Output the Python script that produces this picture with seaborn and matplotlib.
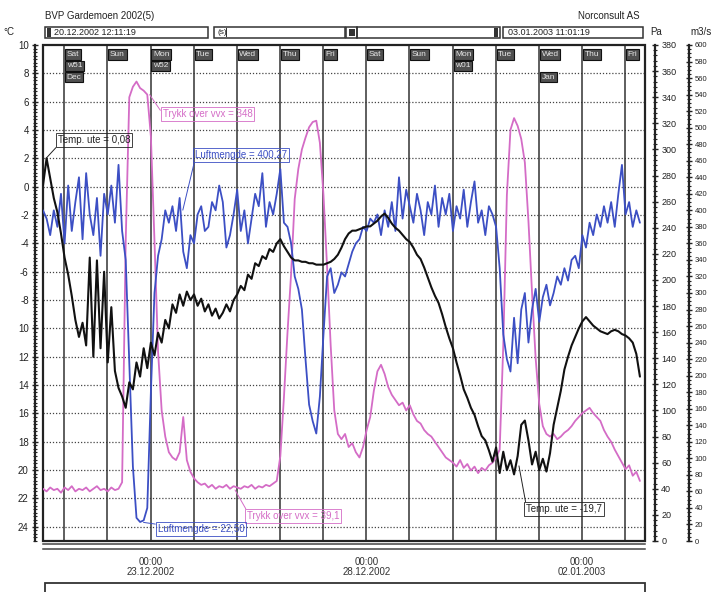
import numpy as np
import pandas as pd
import matplotlib
matplotlib.use('Agg')
import matplotlib.pyplot as plt
from matplotlib.patches import Rectangle
from matplotlib.ticker import MultipleLocator, FixedLocator
from matplotlib.transforms import blended_transform_factory
import seaborn as sns

# logger values, one reading every 2 hours from 20.12.2002 12:11
step_hours = 2
temp_ute = [
    0.1, 2.0, 0.6, -0.8, -1.8, -3.3, -5.0, -6.2, -7.7, -9.4, -10.6, -9.6,
    -11.2, -5.0, -12.0, -5.2, -11.4, -6.0, -12.4, -8.5, -13.0,
    -14.2, -14.8, -15.6, -13.8, -14.3, -12.4, -13.4, -11.4, -12.8, -11.0,
    -11.9, -10.3, -11.0, -9.4, -10.0, -8.3, -8.9, -7.6, -8.4, -7.4,
    -8.0, -7.6, -8.4, -7.9, -8.8, -8.3, -9.1, -8.6, -9.3, -8.9,
    -8.3, -8.8, -8.0, -7.6, -7.0, -7.3, -6.2, -6.5, -5.4, -5.6,
    -4.9, -5.1, -4.4, -4.6, -4.0, -3.7, -4.2, -4.6, -5.0, -5.2,
    -5.2, -5.3, -5.3, -5.4, -5.4, -5.5, -5.5, -5.5, -5.4, -5.3,
    -5.1, -4.8, -4.3, -3.7, -3.3, -3.1, -3.1, -3.0, -2.9, -2.8,
    -2.8, -2.6, -2.4, -2.1, -1.9, -2.2, -2.6, -2.9, -3.1, -3.4,
    -3.7, -3.9, -4.3, -4.8, -5.1, -5.7, -6.4, -7.1, -7.7, -8.2,
    -9.0, -9.9, -10.7, -11.4, -12.4, -13.3, -14.3, -14.9, -15.6, -16.1,
    -16.9, -17.6, -17.9, -18.6, -19.4, -18.4, -20.2, -18.7, -20.0, -19.3,
    -20.3, -19.0, -16.8, -16.5, -17.9, -19.6, -18.7, -20.0, -19.2, -20.1,
    -18.8, -16.8, -15.6, -14.4, -12.9, -12.0, -11.2, -10.6, -10.0, -9.5,
    -9.2, -9.5, -9.8, -10.0, -10.2, -10.3, -10.4, -10.2, -10.1, -10.2,
    -10.4, -10.5, -10.7, -11.0, -11.8, -13.4,
]
luftmengde = [
    400, 390, 370, 400, 380, 420, 360, 430, 375, 410,
    440, 365, 445, 395, 370, 415, 345, 420, 395, 430,
    385, 455, 375, 340, 215, 90, 28, 23, 25, 40,
    180, 300, 345, 365, 400, 385, 405, 375, 415, 350,
    330, 370, 360, 395, 405, 375, 380, 410, 400, 430,
    410, 355, 370, 395, 425, 375, 400, 360, 390, 420,
    405, 445, 380, 410, 395, 420, 450, 385, 380, 360,
    320, 305, 280, 220, 165, 145, 130, 175, 250, 320,
    330, 300, 310, 325, 320, 335, 350, 360, 365, 380,
    375, 390, 385, 395, 370, 400, 380, 410, 375, 440,
    390, 425, 405, 385, 420, 400, 370, 410, 395, 430,
    380, 415, 395, 420, 375, 405, 390, 425, 380, 410,
    435, 385, 400, 370, 405, 395, 380, 330, 250, 220,
    205, 270, 215, 280, 300, 240, 280, 305, 265, 295,
    310, 285, 300, 320, 310, 330, 315, 340, 345, 330,
    370, 355, 385, 370, 395, 380, 405, 385, 410, 380,
    420, 455, 395, 410, 380, 400, 385,
]
trykk_vvx = [
    40, 38, 41, 39, 40, 37, 41, 39, 42, 38,
    40, 39, 41, 38, 40, 42, 39, 40, 38, 41,
    39, 40, 45, 230, 340, 348, 352, 347, 345, 342,
    310, 230, 145, 100, 80, 68, 64, 62, 68, 95,
    62, 53, 48, 45, 43, 44, 41, 43, 40, 42,
    41, 43, 40, 42, 41, 40, 42, 41, 43, 40,
    42, 41, 43, 42, 44, 46, 65, 110, 160, 205,
    262, 285, 300, 309, 317, 321, 322, 305, 265, 210,
    150, 100, 82, 78, 82, 72, 75, 68, 64, 72,
    85, 95, 115, 130, 135, 128, 118, 112, 108, 104,
    106, 100, 104, 97, 92, 90, 85, 82, 80, 76,
    72, 68, 64, 62, 60, 57, 62, 56, 59, 54,
    57, 52, 56, 54, 58, 60, 64, 70, 150, 265,
    315, 324, 318, 308, 290, 245, 190, 140, 105, 88,
    82, 80, 82, 78, 80, 83, 85, 88, 92, 95,
    98, 100, 102, 98, 95, 92, 85, 80, 76, 70,
    65, 60, 55, 58, 50, 53, 46,
]

day_names = ['Sat', 'Sun', 'Mon', 'Tue', 'Wed', 'Thu', 'Fri',
             'Sat', 'Sun', 'Mon', 'Tue', 'Wed', 'Thu', 'Fri']
week_tags = {0: 'w51', 2: 'w52', 9: 'w01'}
month_tags = {0: 'Dec', 11: 'Jan'}
date_labels = {2: '00:00\n23.12.2002', 7: '00:00\n28.12.2002', 12: '00:00\n02.01.2003'}
first_midnight = 0.4921          # days from start to 21.12.2002 00:00
span_days = 13.951               # 20.12.2002 12:11 -> 03.01.2003 11:01

temp_ticks = list(range(10, -25, -2))
temp_ticklabels = ['10', '8', '6', '4', '2', '0', '-2', '-4', '-6', '-8',
                   '10', '12', '14', '16', '18', '20', '22', '24']

BLUE = '#3c4fc4'
MAG = '#d46cc6'
GRID = '#444444'

df = pd.DataFrame({
    'dag': np.arange(len(temp_ute)) * step_hours / 24,
    'temp': temp_ute,
    'luft': luftmengde,
    'trykk': trykk_vvx,
})

sns.set_style('white')
plt.rcParams['font.family'] = ['Liberation Sans', 'DejaVu Sans']

W, H = 713, 592
PT = 72 / 100   # points per pixel at dpi 100
fig = plt.figure(figsize=(W / 100, H / 100), dpi=100)


def box(x0, y0, x1, y1):
    return [x0 / W, 1 - y1 / H, (x1 - x0) / W, (y1 - y0) / H]


ax = fig.add_axes(box(43, 45, 645, 541))
ax.set_xlim(0, span_days)
ax.set_ylim(-25, 10)
for s in ['top', 'right', 'bottom']:
    ax.spines[s].set_visible(False)
ax.spines['left'].set_position(('outward', 8 * PT))
ax.spines['left'].set_linewidth(1.6)
ax.spines['left'].set_color('#222')
ax.set_yticks(temp_ticks)
ax.set_yticklabels(temp_ticklabels)
ax.yaxis.set_minor_locator(MultipleLocator(0.25))
ax.tick_params(axis='y', which='major', direction='inout', length=5, width=1,
               labelsize=7, pad=2, colors='#222')
ax.tick_params(axis='y', which='minor', direction='inout', length=2.5, width=0.8, colors='#222')
ax.tick_params(axis='x', bottom=False, labelbottom=False)
ax.add_patch(Rectangle((0, 0), 1, 1, transform=ax.transAxes, fill=False,
                       ec='#222', lw=1.6, clip_on=False, zorder=5))

# grid: dotted horizontals, solid day lines
for v in range(-24, 10, 2):
    ax.axhline(v, color=GRID, lw=0.9, ls=(0, (1, 1.5)), zorder=1)
for i in range(len(day_names)):
    ax.axvline(first_midnight + i, color='#333', lw=1.1, zorder=1)

# pressure axis (Pa)
ax_p = ax.twinx()
ax_p.set_ylim(0, 380)
for s in ['top', 'left', 'bottom']:
    ax_p.spines[s].set_visible(False)
ax_p.spines['right'].set_position(('outward', 10 * PT))
ax_p.spines['right'].set_linewidth(1.6)
ax_p.spines['right'].set_color('#222')
ax_p.yaxis.set_major_locator(FixedLocator(range(0, 381, 20)))
ax_p.yaxis.set_minor_locator(MultipleLocator(4))
ax_p.tick_params(axis='y', which='major', direction='inout', length=5, width=1,
                 labelsize=6.5, pad=2, colors='#222')
ax_p.tick_params(axis='y', which='minor', direction='inout', length=2.5, width=0.8, colors='#222')

# air flow axis (m3/s)
ax_q = ax.twinx()
ax_q.set_ylim(0, 600)
for s in ['top', 'left', 'bottom']:
    ax_q.spines[s].set_visible(False)
ax_q.spines['right'].set_position(('outward', 44 * PT))
ax_q.spines['right'].set_linewidth(1.6)
ax_q.spines['right'].set_color('#222')
ax_q.yaxis.set_major_locator(FixedLocator(range(0, 601, 20)))
ax_q.yaxis.set_minor_locator(MultipleLocator(5))
ax_q.tick_params(axis='y', which='major', direction='inout', length=5, width=1,
                 labelsize=5.5, pad=1.5, colors='#222')
ax_q.tick_params(axis='y', which='minor', direction='inout', length=2.5, width=0.8, colors='#222')

# temperature on top
ax_t = ax.twinx()
ax_t.set_ylim(-25, 10)
for s in ax_t.spines.values():
    s.set_visible(False)
ax_t.set_yticks([])

sns.lineplot(data=df, x='dag', y='trykk', ax=ax_p, color=MAG, lw=1.3)
sns.lineplot(data=df, x='dag', y='luft', ax=ax_q, color=BLUE, lw=1.3)
sns.lineplot(data=df, x='dag', y='temp', ax=ax_t, color='#111', lw=1.5)
for a in (ax, ax_p, ax_q, ax_t):
    a.set_xlabel('')
    a.set_ylabel('')
ax.set_xlim(0, span_days)

# day boxes at the top of the chart
tr = blended_transform_factory(ax_t.transData, ax_t.transAxes)
rows = [0.981, 0.958, 0.935]
for i, name in enumerate(day_names):
    tags = [(0, name)]
    if i in week_tags:
        tags.append((1, week_tags[i]))
    if i in month_tags:
        tags.append((2, month_tags[i]))
    for r, t in tags:
        ax_t.text(first_midnight + i + 0.06, rows[r], t, transform=tr, fontsize=6,
                  color='#e6e6e6', ha='left', va='center', zorder=6,
                  bbox=dict(boxstyle='square,pad=0.2', fc='#505050', ec='#111', lw=0.8))


# cursor value labels
def label(axis, x, y, text, color, dx, dy, va, relpos):
    axis.annotate(text, xy=(x, y), xytext=(dx, dy), textcoords='offset pixels',
                  fontsize=7, color=color, ha='left', va=va, zorder=7,
                  bbox=dict(boxstyle='square,pad=0.2', fc='none', ec=color, lw=0.6),
                  arrowprops=dict(arrowstyle='-', color=color, lw=0.7,
                                  shrinkA=0, shrinkB=0, relpos=relpos),
                  annotation_clip=False)


label(ax_t, 0.07, 2.0, 'Temp. ute = 0,08', '#222', 12, 13, 'bottom', (0, 0))
label(ax_q, 3.24, 400.27, 'Luftmengde = 400,27', BLUE, 12, 50, 'bottom', (0, 0))
label(ax_p, 2.47, 342, 'Trykk over vvx = 348', MAG, 13, -24, 'bottom', (0, 0.5))
label(ax_p, 4.45, 39.1, 'Trykk over vvx = 39,1', MAG, 12, -21, 'top', (0, 1))
label(ax_q, 2.33, 22.5, 'Luftmengde = 22,50', BLUE, 14, -2, 'top', (0, 1))
label(ax_t, 11.03, -19.7, 'Temp. ute = -19,7', '#222', 7, -38, 'top', (0, 1))

# time strip below the chart
ax_b = fig.add_axes(box(43, 544, 645, 549))
ax_b.set_xlim(0, span_days)
ax_b.set_facecolor('none')
ax_b.set_yticks([])
ax_b.spines['left'].set_visible(False)
ax_b.spines['right'].set_visible(False)
for s in ['top', 'bottom']:
    ax_b.spines[s].set_linewidth(1.1)
    ax_b.spines[s].set_color('#444')
ax_b.set_xticks([first_midnight + i for i in range(len(day_names))])
ax_b.set_xticklabels([date_labels.get(i, '') for i in range(len(day_names))],
                     linespacing=1.1)
ax_b.tick_params(axis='x', direction='inout', length=7, width=1, labelsize=7,
                 pad=2, colors='#333')

fig.add_artist(Rectangle((45 / W, 1 - 597 / H), 600 / W, 14 / H, transform=fig.transFigure,
                         fill=False, ec='#333', lw=1.3))

# header
fig.text(45 / W, 1 - 16 / H, 'BVP Gardemoen 2002(5)', fontsize=7, va='center', color='#222')
fig.text(640 / W, 1 - 16 / H, 'Norconsult AS', fontsize=7, va='center', ha='right', color='#222')
fig.text(3 / W, 1 - 32 / H, '°C', fontsize=7, va='center', color='#222')
fig.text(650 / W, 1 - 32 / H, 'Pa', fontsize=7, va='center', color='#222')
fig.text(690 / W, 1 - 32 / H, 'm3/s', fontsize=7, va='center', color='#222')

for x0, x1 in [(45, 208), (214, 345), (346, 357), (357, 500), (503, 643)]:
    fig.add_artist(Rectangle(box(x0, 27, x1, 38)[:2], (x1 - x0) / W, 11 / H,
                             transform=fig.transFigure, fill=False, ec='#333', lw=1.1))
for x0 in (47, 494):
    fig.add_artist(Rectangle(box(x0, 28, x0 + 4, 37)[:2], 4 / W, 9 / H,
                             transform=fig.transFigure, fc='#333', ec='none'))
fig.add_artist(Rectangle(box(349, 29, 355, 36)[:2], 6 / W, 7 / H,
                         transform=fig.transFigure, fc='#333', ec='none'))
fig.text(54 / W, 1 - 32.5 / H, '20.12.2002 12:11:19', fontsize=6.5, va='center', color='#222')
fig.text(508 / W, 1 - 32.5 / H, '03.01.2003 11:01:19', fontsize=6.5, va='center', color='#222')
fig.text(217 / W, 1 - 32.5 / H, '(s)', fontsize=6, va='center', color='#222')
fig.add_artist(Rectangle(box(226, 28, 228, 37)[:2], 1 / W, 9 / H,
                         transform=fig.transFigure, fc='#333', ec='none'))

fig.savefig('out.png', dpi=100)
